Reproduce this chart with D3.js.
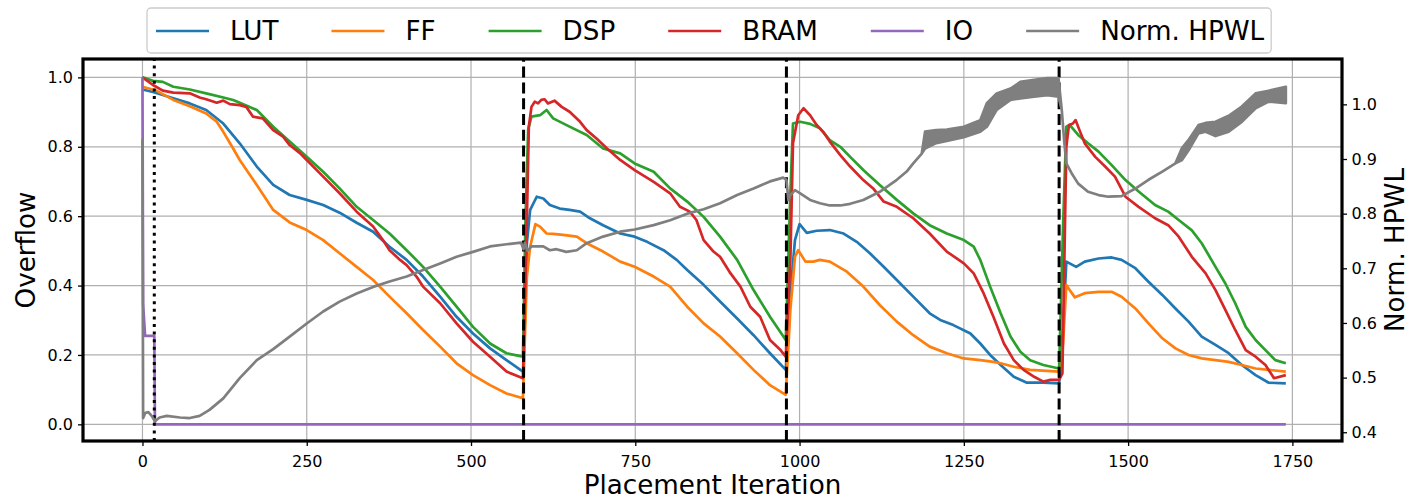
<!DOCTYPE html>
<html>
<head>
<meta charset="utf-8">
<script src="https://cdn.jsdelivr.net/npm/d3@7"></script>
<style>
    body { margin: 0; background: #fff; }
    text { font-family: "DejaVu Sans", sans-serif; }
</style>
</head>
<body>
<div id="chart"></div>
<script>
/** Données : [itération, valeur] */
var lutData = [[0,0.965],[16,0.958],[47,0.94],[72,0.925],[97,0.906],[123,0.867],[148,0.81],[174,0.743],[199,0.69],[224,0.661],[250,0.647],[275,0.632],[300,0.61],[326,0.581],[351,0.555],[376,0.512],[402,0.474],[427,0.426],[453,0.368],[478,0.31],[503,0.262],[529,0.219],[554,0.185],[579,0.152],
    [580,0.157],[585,0.522],[590,0.618],[600,0.656],[610,0.651],[620,0.632],[635,0.622],[650,0.618],[666,0.613],[681,0.594],[701,0.574],[727,0.55],[749,0.541],[768,0.526],[793,0.502],[813,0.474],[829,0.445],[854,0.402],[879,0.354],[905,0.305],[930,0.257],[955,0.205],[979,0.157],
    [986,0.378],[993,0.531],[1000,0.577],[1011,0.552],[1026,0.558],[1046,0.56],[1067,0.55],[1087,0.526],[1107,0.493],[1128,0.454],[1148,0.416],[1173,0.368],[1198,0.32],[1214,0.301],[1234,0.286],[1260,0.262],[1275,0.233],[1290,0.2],[1306,0.171],[1326,0.137],[1346,0.12],[1371,0.12],[1395,0.118],
    [1401,0.281],[1406,0.469],[1411,0.464],[1421,0.454],[1434,0.469],[1455,0.478],[1475,0.481],[1490,0.474],[1511,0.45],[1531,0.411],[1552,0.373],[1572,0.334],[1592,0.296],[1612,0.253],[1633,0.229],[1653,0.205],[1673,0.171],[1694,0.142],[1714,0.12],[1740,0.118]];

var ffData = [[0,0.973],[21,0.962],[47,0.935],[72,0.917],[97,0.896],[113,0.872],[123,0.843],[138,0.795],[148,0.762],[174,0.69],[199,0.618],[224,0.582],[250,0.56],[275,0.531],[300,0.493],[326,0.454],[351,0.416],[376,0.368],[402,0.32],[427,0.272],[453,0.224],[478,0.176],[503,0.142],[529,0.113],[554,0.089],[579,0.075],
    [585,0.426],[590,0.512],[598,0.577],[605,0.57],[615,0.55],[625,0.549],[640,0.546],[661,0.541],[676,0.522],[701,0.498],[727,0.469],[749,0.454],[778,0.426],[803,0.397],[829,0.339],[854,0.291],[879,0.253],[905,0.205],[930,0.157],[955,0.113],[979,0.085],
    [986,0.33],[993,0.483],[998,0.502],[1009,0.469],[1021,0.469],[1031,0.474],[1046,0.469],[1072,0.44],[1097,0.397],[1122,0.344],[1148,0.296],[1173,0.257],[1198,0.224],[1224,0.205],[1250,0.19],[1275,0.185],[1295,0.18],[1306,0.176],[1326,0.166],[1351,0.157],[1395,0.152],
    [1401,0.233],[1406,0.402],[1411,0.387],[1419,0.366],[1434,0.378],[1455,0.382],[1475,0.382],[1490,0.368],[1511,0.334],[1531,0.291],[1552,0.248],[1572,0.219],[1592,0.2],[1612,0.19],[1633,0.185],[1653,0.18],[1673,0.171],[1694,0.161],[1714,0.157],[1740,0.152]];

var dspData = [[0,1.0],[16,0.99],[31,0.987],[47,0.973],[72,0.965],[97,0.954],[123,0.942],[138,0.935],[148,0.927],[174,0.906],[199,0.858],[224,0.815],[250,0.771],[275,0.728],[300,0.68],[326,0.627],[351,0.589],[376,0.55],[402,0.502],[427,0.454],[453,0.397],[478,0.339],[503,0.281],[529,0.233],[554,0.205],[579,0.195],
    [583,0.6],[587,0.85],[592,0.887],[605,0.891],[615,0.906],[625,0.882],[650,0.858],[676,0.834],[701,0.795],[727,0.781],[749,0.752],[778,0.728],[803,0.68],[829,0.642],[854,0.598],[879,0.541],[905,0.474],[930,0.387],[955,0.31],[979,0.243],
    [986,0.666],[990,0.867],[1001,0.872],[1016,0.866],[1031,0.853],[1046,0.819],[1062,0.8],[1077,0.771],[1097,0.733],[1122,0.69],[1148,0.647],[1173,0.608],[1198,0.574],[1224,0.55],[1250,0.531],[1265,0.512],[1275,0.474],[1290,0.397],[1306,0.32],[1321,0.253],[1336,0.209],[1351,0.185],[1371,0.171],[1395,0.161],
    [1401,0.57],[1406,0.858],[1411,0.863],[1424,0.834],[1439,0.81],[1455,0.786],[1475,0.747],[1496,0.704],[1516,0.671],[1541,0.632],[1561,0.613],[1577,0.589],[1597,0.559],[1612,0.522],[1633,0.454],[1648,0.406],[1663,0.349],[1679,0.281],[1694,0.243],[1709,0.214],[1724,0.185],[1740,0.176]];

var bramData = [[0,1.0],[16,0.978],[31,0.962],[47,0.956],[72,0.954],[87,0.942],[97,0.937],[113,0.927],[123,0.933],[133,0.923],[148,0.92],[158,0.915],[168,0.887],[183,0.882],[199,0.848],[214,0.829],[224,0.805],[240,0.781],[250,0.762],[275,0.714],[300,0.666],[326,0.613],[351,0.57],[366,0.531],[376,0.502],[392,0.474],[402,0.459],[417,0.426],[427,0.397],[453,0.349],[478,0.291],[503,0.238],[529,0.195],[554,0.152],[579,0.133],
    [584,0.5],[588,0.858],[592,0.915],[597,0.93],[602,0.925],[607,0.935],[612,0.937],[617,0.925],[627,0.933],[638,0.915],[650,0.901],[666,0.872],[676,0.848],[691,0.824],[707,0.795],[727,0.762],[749,0.733],[778,0.699],[803,0.666],[818,0.627],[833,0.613],[843,0.589],[854,0.531],[869,0.498],[879,0.483],[895,0.435],[910,0.397],[925,0.339],[940,0.31],[955,0.243],[971,0.214],[979,0.195],
    [986,0.474],[990,0.81],[998,0.891],[1006,0.911],[1016,0.891],[1026,0.863],[1036,0.843],[1046,0.815],[1062,0.776],[1077,0.743],[1097,0.704],[1112,0.68],[1128,0.642],[1148,0.627],[1173,0.594],[1198,0.55],[1224,0.498],[1250,0.464],[1265,0.435],[1280,0.378],[1295,0.31],[1311,0.233],[1326,0.185],[1341,0.157],[1357,0.137],[1371,0.123],[1382,0.128],[1395,0.128],
    [1400,0.147],[1406,0.8],[1410,0.863],[1416,0.867],[1420,0.877],[1426,0.848],[1434,0.81],[1450,0.771],[1465,0.743],[1480,0.714],[1496,0.656],[1516,0.627],[1541,0.594],[1561,0.574],[1577,0.541],[1597,0.483],[1618,0.435],[1633,0.387],[1648,0.33],[1663,0.272],[1679,0.214],[1694,0.195],[1709,0.171],[1722,0.133],[1740,0.142]];

var ioData = [[0,1.0],[1,0.345],[4,0.255],[18,0.255],[19,0.0],[1740,0.0]];

/** Norm. HPWL (axe de droite) : [itération, bas, haut] -- la courbe oscille fortement à la fin */
var hpwlData = [[0,0.935,0.935],[1,0.426,0.426],[4,0.435,0.435],[9,0.437,0.437],[14,0.43,0.43],[19,0.42,0.42],[26,0.427,0.427],[37,0.43,0.43],[57,0.427,0.427],[72,0.426,0.426],[87,0.43,0.43],[102,0.441,0.441],[123,0.462,0.462],[148,0.499,0.499],[174,0.532,0.532],[199,0.552,0.552],[224,0.575,0.575],[250,0.599,0.599],[275,0.621,0.621],[300,0.639,0.639],[326,0.654,0.654],[351,0.666,0.666],[376,0.676,0.676],[402,0.685,0.685],[427,0.697,0.697],[453,0.709,0.709],[478,0.721,0.721],[503,0.73,0.73],[529,0.74,0.74],[554,0.744,0.744],[576,0.747,0.747],
    [580,0.735,0.735],[582,0.747,0.747],[586,0.732,0.732],[592,0.74,0.74],[610,0.74,0.74],[620,0.733,0.733],[630,0.735,0.735],[645,0.73,0.73],[661,0.733,0.733],[676,0.746,0.746],[701,0.758,0.758],[727,0.767,0.767],[749,0.771,0.771],[778,0.779,0.779],[803,0.788,0.788],[829,0.8,0.8],[854,0.808,0.808],[879,0.819,0.819],[905,0.834,0.834],[930,0.846,0.846],[955,0.859,0.859],[975,0.866,0.866],
    [980,0.862,0.862],[983,0.825,0.825],[986,0.834,0.834],[993,0.843,0.843],[1001,0.837,0.837],[1016,0.825,0.825],[1031,0.819,0.819],[1046,0.815,0.815],[1062,0.815,0.815],[1077,0.818,0.818],[1097,0.825,0.825],[1122,0.84,0.84],[1148,0.862,0.862],[1163,0.877,0.877],[1173,0.892,0.892],[1186,0.91,0.91],[1191,0.919,0.95],[1208,0.929,0.953],[1224,0.933,0.954],[1250,0.94,0.959],[1275,0.95,0.971],[1285,0.959,1.002],[1300,0.99,1.02],[1321,1.008,1.029],[1336,1.011,1.041],[1357,1.014,1.045],[1377,1.017,1.048],[1394,1.014,1.048],
    [1399,0.99,0.99],[1403,0.929,0.929],[1406,0.892,0.892],[1414,0.874,0.874],[1424,0.855,0.855],[1439,0.84,0.84],[1455,0.834,0.834],[1470,0.831,0.831],[1490,0.832,0.832],[1511,0.846,0.846],[1531,0.862,0.862],[1552,0.877,0.877],[1572,0.892,0.892],[1582,0.898,0.92],[1592,0.916,0.935],[1607,0.947,0.962],[1618,0.95,0.966],[1633,0.942,0.968],[1653,0.95,0.979],[1673,0.968,0.996],[1694,0.993,1.02],[1714,1.005,1.025],[1740,1.002,1.032]];

/** Lignes verticales : fin de la phase IO (pointillés) puis changements de phase (tirets) */
var ioEndIter = [18];
var phaseIters = [580, 980, 1395];

var xTicks = [0, 250, 500, 750, 1000, 1250, 1500, 1750];
var yLeftTicks = [0.0, 0.2, 0.4, 0.6, 0.8, 1.0];
var yRightTicks = [0.4, 0.5, 0.6, 0.7, 0.8, 0.9, 1.0];

var seriesNames = ["LUT", "FF", "DSP", "BRAM", "IO", "Norm. HPWL"];
var seriesColors = ["#1f77b4", "#ff7f0e", "#2ca02c", "#d62728", "#9467bd", "#7f7f7f"];

/** Initialisation du SVG */
var width = 1410,
    height = 500;
// attention : "top" est réservé par le navigateur (window.top)
var plotLeft = 83, plotRight = 1342, plotTop = 59, plotBottom = 441;

var svg = d3
    .select("#chart")
    .append("svg")
    .attr("width", width)
    .attr("height", height);

var x = d3.scaleLinear().domain([-90.5, 1825.5]).range([plotLeft, plotRight]);
var yL = d3.scaleLinear().domain([-0.048, 1.053]).range([plotBottom, plotTop]);
var yR = d3.scaleLinear().domain([0.384, 1.083]).range([plotBottom, plotTop]);

// grille
var grid = svg.append("g").attr("stroke", "#b0b0b0").attr("stroke-width", 1.2);
grid.selectAll(".vx").data(xTicks).enter().append("line")
    .attr("x1", d => x(d)).attr("x2", d => x(d))
    .attr("y1", plotTop).attr("y2", plotBottom);
grid.selectAll(".hy").data(yLeftTicks).enter().append("line")
    .attr("x1", plotLeft).attr("x2", plotRight)
    .attr("y1", d => yL(d)).attr("y2", d => yL(d));

// on coupe ce qui sort du cadre
svg.append("clipPath").attr("id", "clip")
    .append("rect").attr("x", plotLeft).attr("y", plotTop)
    .attr("width", plotRight - plotLeft).attr("height", plotBottom - plotTop);

var plot = svg.append("g").attr("clip-path", "url(#clip)");

var line = d3.line().x(d => x(d[0])).y(d => yL(d[1]));
var leftSeries = [lutData, ffData, dspData, bramData, ioData];

leftSeries.forEach(function (data, i) {
    plot.append("path")
        .datum(data)
        .attr("d", line)
        .attr("fill", "none")
        .attr("stroke", seriesColors[i])
        .attr("stroke-width", 2.7)
        .attr("stroke-linejoin", "round");
});

// lignes verticales
plot.selectAll(".dotted").data(ioEndIter).enter().append("line")
    .attr("x1", d => x(d)).attr("x2", d => x(d))
    .attr("y1", plotBottom).attr("y2", plotTop)
    .attr("stroke", "#000").attr("stroke-width", 3)
    .attr("stroke-dasharray", "3,4.6");
plot.selectAll(".dashed").data(phaseIters).enter().append("line")
    .attr("x1", d => x(d)).attr("x2", d => x(d))
    .attr("y1", plotBottom).attr("y2", plotTop)
    .attr("stroke", "#000").attr("stroke-width", 3)
    .attr("stroke-dasharray", "11,4.8");

// HPWL sur l'axe de droite, une bande là où la courbe oscille
var band = d3.area()
    .x(d => x(d[0]))
    .y0(d => yR(d[1]))
    .y1(d => yR(d[2]));
plot.append("path")
    .datum(hpwlData)
    .attr("d", band)
    .attr("fill", seriesColors[5])
    .attr("stroke", seriesColors[5])
    .attr("stroke-width", 2.7)
    .attr("stroke-linejoin", "round");

// axes
var fmt = d3.format(".1f");
var axB = svg.append("g").attr("transform", "translate(0," + plotBottom + ")")
    .call(d3.axisBottom(x).tickValues(xTicks).tickFormat(d3.format("d")).tickSize(5).tickPadding(9.5));
var axL = svg.append("g").attr("transform", "translate(" + plotLeft + ",0)")
    .call(d3.axisLeft(yL).tickValues(yLeftTicks).tickFormat(fmt).tickSize(5).tickPadding(5));
var axR = svg.append("g").attr("transform", "translate(" + plotRight + ",0)")
    .call(d3.axisRight(yR).tickValues(yRightTicks).tickFormat(fmt).tickSize(5).tickPadding(4.5));

[axB, axL, axR].forEach(function (ax) {
    ax.select(".domain").remove();
    ax.selectAll("line").attr("stroke", "#000").attr("stroke-width", 1.3);
    ax.selectAll("text").attr("font-size", 16).attr("fill", "#000")
        .attr("font-family", '"DejaVu Sans", sans-serif');
});

// cadre
svg.append("rect")
    .attr("x", plotLeft).attr("y", plotTop)
    .attr("width", plotRight - plotLeft).attr("height", plotBottom - plotTop)
    .attr("fill", "none").attr("stroke", "#000").attr("stroke-width", 3.2);

// titres des axes
svg.append("text")
    .attr("x", (plotLeft + plotRight) / 2).attr("y", 493.5)
    .attr("text-anchor", "middle").attr("font-size", 26.2)
    .text("Placement Iteration");
svg.append("text")
    .attr("transform", "translate(35," + (plotTop + plotBottom) / 2 + ") rotate(-90)")
    .attr("text-anchor", "middle").attr("font-size", 26.2)
    .text("Overflow");
svg.append("text")
    .attr("transform", "translate(1403.5," + (plotTop + plotBottom) / 2 + ") rotate(-90)")
    .attr("text-anchor", "middle").attr("font-size", 26.2)
    .text("Norm. HPWL");

/** Légende */
var legend = svg.append("g");
var legendBox = legend.append("rect")
    .attr("x", 147).attr("y", 8).attr("height", 45).attr("rx", 4)
    .attr("fill", "#fff").attr("fill-opacity", 0.8)
    .attr("stroke", "#cccccc").attr("stroke-width", 1.3);

var cursor = 156;
var legendY = 31;
seriesNames.forEach(function (name, i) {
    legend.append("line")
        .attr("x1", cursor).attr("x2", cursor + 53)
        .attr("y1", legendY).attr("y2", legendY)
        .attr("stroke", seriesColors[i]).attr("stroke-width", 2.7);
    var t = legend.append("text")
        .attr("x", cursor + 53 + 21).attr("y", legendY)
        .attr("dy", "0.35em").attr("font-size", 26.2)
        .text(name);
    var w = t.node().getComputedTextLength();
    cursor = cursor + 53 + 21 + w + 53;
});
legendBox.attr("width", cursor - 53 + 7 - 147);
</script>
</body>
</html>
